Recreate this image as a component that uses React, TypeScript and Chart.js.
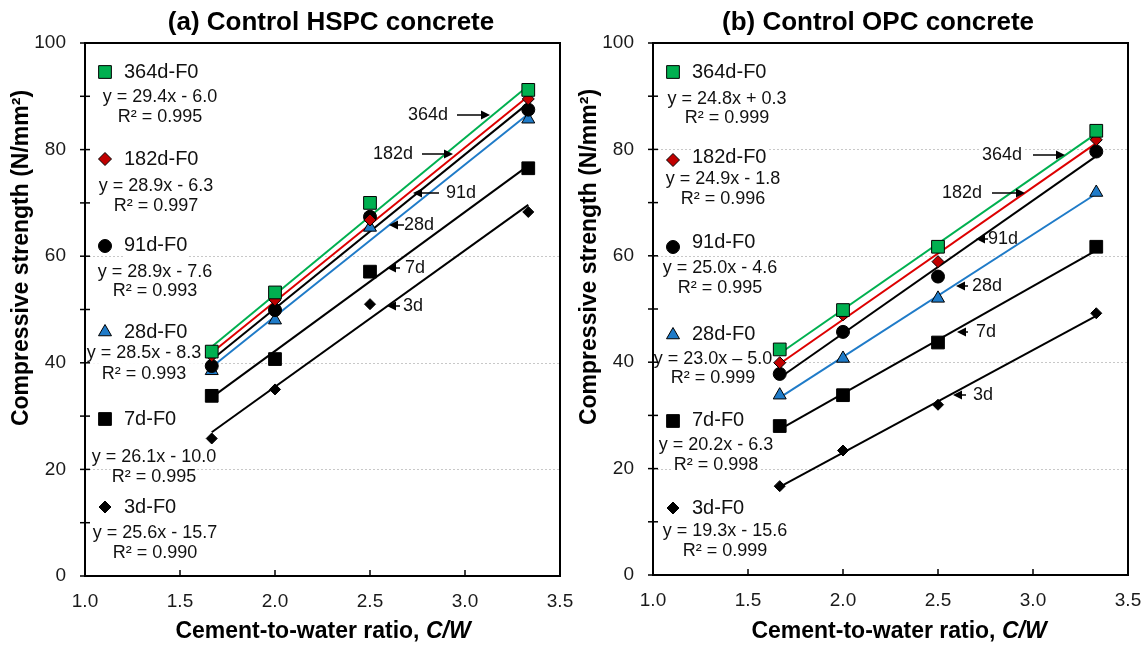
import React, { useEffect, useRef } from 'react';
import { Chart, registerables } from 'chart.js';

Chart.register(...registerables);

const FONT = '"Liberation Sans", Arial, Helvetica, sans-serif';

// ---------- data ----------
const CW = [1.667, 2.0, 2.5, 3.333];
const SERIES_NAMES = ['364d-F0', '182d-F0', '91d-F0', '28d-F0', '7d-F0', '3d-F0'];
const AGE_LABELS = ['364d', '182d', '91d', '28d', '7d', '3d'];

// (a) Control HSPC concrete
const HSPC_364 = [42.1, 53.2, 70.0, 91.2];
const HSPC_182 = [41.3, 51.8, 66.8, 89.5];
const HSPC_91 = [39.4, 49.9, 67.4, 87.5];
const HSPC_28 = [38.5, 48.0, 65.4, 85.7];
const HSPC_7 = [33.8, 40.7, 57.1, 76.5];
const HSPC_3 = [25.8, 35.0, 51.0, 68.3];
const HSPC_SLOPE = [29.4, 28.9, 28.9, 28.5, 26.1, 25.6];
const HSPC_INTERCEPT = [-6.0, -6.3, -7.6, -8.3, -10.0, -15.7];
const HSPC_EQ = ['y = 29.4x - 6.0', 'y = 28.9x - 6.3', 'y = 28.9x - 7.6', 'y = 28.5x - 8.3', 'y = 26.1x - 10.0', 'y = 25.6x - 15.7'];
const HSPC_R2 = ['R² = 0.995', 'R² = 0.997', 'R² = 0.993', 'R² = 0.993', 'R² = 0.995', 'R² = 0.990'];

// (b) Control OPC concrete
const OPC_364 = [42.4, 49.8, 61.7, 83.5];
const OPC_182 = [39.9, 48.9, 58.9, 81.8];
const OPC_91 = [37.8, 45.7, 56.1, 79.6];
const OPC_28 = [33.8, 40.7, 52.0, 71.9];
const OPC_7 = [28.0, 33.8, 43.7, 61.7];
const OPC_3 = [16.7, 23.4, 32.0, 49.2];
const OPC_SLOPE = [24.8, 24.9, 25.0, 23.0, 20.2, 19.3];
const OPC_INTERCEPT = [0.3, -1.8, -4.6, -5.0, -6.3, -15.6];
const OPC_EQ = ['y = 24.8x + 0.3', 'y = 24.9x - 1.8', 'y = 25.0x - 4.6', 'y = 23.0x – 5.0', 'y = 20.2x - 6.3', 'y = 19.3x - 15.6'];
const OPC_R2 = ['R² = 0.999', 'R² = 0.996', 'R² = 0.995', 'R² = 0.999', 'R² = 0.998', 'R² = 0.999'];

const X_TICKS_MIN = 1.0;
const X_TICKS_MAX = 3.5;
const Y_MIN = 0;
const Y_MAX = 100;

// ---------- styles ----------
const STYLES = [
  { pointStyle: 'rect', fill: '#00B050', line: '#00B050', radius: 9 },
  { pointStyle: 'rectRot', fill: '#C00000', line: '#DD0000', radius: 6 },
  { pointStyle: 'circle', fill: '#000000', line: '#000000', radius: 6.5 },
  { pointStyle: 'triangle', fill: '#1F7BC8', line: '#1F7BC8', radius: 7.5 },
  { pointStyle: 'rect', fill: '#000000', line: '#000000', radius: 9 },
  { pointStyle: 'rectRot', fill: '#000000', line: '#000000', radius: 5.5 },
];

type Ann = { tx: number; ty: number; from: number; tip: number };

type Panel = {
  title: string;
  titleX: number;
  yTitleX: number;
  yTitleY: number;
  xTitleX: number;
  left: number;
  right: number;
  top: number;
  bottom: number;
  series: number[][];
  slopes: number[];
  intercepts: number[];
  eqs: string[];
  r2s: string[];
  grid: number[];
  markerX: number;
  labelX: number;
  labelY: number[];
  markerY: number[];
  eqX: number[];
  eqY: number[];
  r2Y: number[];
  ann: Ann[];
};

const PANEL_A: Panel = {
  title: '(a) Control HSPC concrete',
  titleX: 331,
  yTitleX: 22,
  yTitleY: 258,
  xTitleX: 323,
  left: 85,
  right: 560,
  top: 43,
  bottom: 576,
  series: [HSPC_364, HSPC_182, HSPC_91, HSPC_28, HSPC_7, HSPC_3],
  slopes: HSPC_SLOPE,
  intercepts: HSPC_INTERCEPT,
  eqs: HSPC_EQ,
  r2s: HSPC_R2,
  grid: [20, 40, 60],
  markerX: 105,
  labelX: 124,
  labelY: [72, 159, 245, 332, 419, 507],
  markerY: [72, 159, 246, 332, 419, 507],
  eqX: [160, 156, 155, 144, 154, 155],
  eqY: [97, 186, 272, 353, 457, 533],
  r2Y: [117, 206, 291, 374, 477, 553],
  ann: [
    { tx: 428, ty: 115, from: 457, tip: 490 },
    { tx: 393, ty: 154, from: 422, tip: 453 },
    { tx: 461, ty: 193, from: 439, tip: 413 },
    { tx: 419, ty: 225, from: 404, tip: 389 },
    { tx: 415, ty: 268, from: 400, tip: 387 },
    { tx: 413, ty: 306, from: 400, tip: 387 },
  ],
};

const PANEL_B: Panel = {
  title: '(b) Control OPC concrete',
  titleX: 305,
  yTitleX: 17,
  yTitleY: 257,
  xTitleX: 326,
  left: 80,
  right: 555,
  top: 43,
  bottom: 575,
  series: [OPC_364, OPC_182, OPC_91, OPC_28, OPC_7, OPC_3],
  slopes: OPC_SLOPE,
  intercepts: OPC_INTERCEPT,
  eqs: OPC_EQ,
  r2s: OPC_R2,
  grid: [20, 40, 60, 80],
  markerX: 100,
  labelX: 119,
  labelY: [72, 157, 242, 334, 420, 508],
  markerY: [72, 160, 247, 335, 421, 508],
  eqX: [154, 150, 147, 140, 143, 152],
  eqY: [99, 179, 268, 359, 445, 531],
  r2Y: [118, 199, 288, 378, 465, 551],
  ann: [
    { tx: 429, ty: 155, from: 460, tip: 492 },
    { tx: 389, ty: 193, from: 419, tip: 452 },
    { tx: 430, ty: 239, from: 415, tip: 403 },
    { tx: 414, ty: 286, from: 395, tip: 383 },
    { tx: 413, ty: 332, from: 395, tip: 384 },
    { tx: 410, ty: 395, from: 393, tip: 380 },
  ],
};

const W = 573;
const H = 646;

function drawMarker(ctx: CanvasRenderingContext2D, style: string, x: number, y: number, r: number, fill: string) {
  ctx.beginPath();
  if (style === 'rect') {
    const s = r * Math.SQRT1_2;
    ctx.rect(x - s, y - s, 2 * s, 2 * s);
  } else if (style === 'rectRot') {
    ctx.moveTo(x - r, y);
    ctx.lineTo(x, y - r);
    ctx.lineTo(x + r, y);
    ctx.lineTo(x, y + r);
    ctx.closePath();
  } else if (style === 'circle') {
    ctx.arc(x, y, r, 0, Math.PI * 2);
  } else if (style === 'triangle') {
    for (let k = 0; k < 3; k++) {
      const a = (k * 2 * Math.PI) / 3;
      const px = x + Math.sin(a) * r;
      const py = y - Math.cos(a) * r;
      if (k === 0) ctx.moveTo(px, py);
      else ctx.lineTo(px, py);
    }
    ctx.closePath();
  }
  ctx.fillStyle = fill;
  ctx.fill();
  ctx.lineWidth = 1;
  ctx.strokeStyle = '#000';
  ctx.stroke();
}

function boxedText(ctx: CanvasRenderingContext2D, text: string, x: number, y: number, size: number, align: CanvasTextAlign) {
  ctx.font = `${size}px ${FONT}`;
  const w = ctx.measureText(text).width;
  const x0 = align === 'center' ? x - w / 2 : align === 'left' ? x : x - w;
  ctx.fillStyle = '#fff';
  ctx.fillRect(x0 - 1, y - size * 0.6, w + 2, size * 1.2);
  ctx.fillStyle = '#111';
  ctx.textAlign = align;
  ctx.textBaseline = 'middle';
  ctx.fillText(text, x, y);
}

function arrow(ctx: CanvasRenderingContext2D, from: number, tip: number, y: number) {
  const dir = tip > from ? 1 : -1;
  const head = 9;
  ctx.strokeStyle = '#000';
  ctx.fillStyle = '#000';
  ctx.lineWidth = 1.5;
  ctx.beginPath();
  ctx.moveTo(from, y);
  ctx.lineTo(tip - dir * head * 0.6, y);
  ctx.stroke();
  ctx.beginPath();
  ctx.moveTo(tip, y);
  ctx.lineTo(tip - dir * head, y - 4.5);
  ctx.lineTo(tip - dir * head, y + 4.5);
  ctx.closePath();
  ctx.fill();
}

function makePlugin(p: Panel) {
  return {
    id: 'panelDeco',
    beforeDatasetsDraw(chart: any) {
      const ctx: CanvasRenderingContext2D = chart.ctx;
      const { left, right } = chart.chartArea;
      const ys = chart.scales.y;
      ctx.save();
      // grid lines
      ctx.strokeStyle = '#c8c8c8';
      ctx.lineWidth = 1;
      ctx.setLineDash([2, 2]);
      p.grid.forEach((g) => {
        const y = Math.round(ys.getPixelForValue(g)) + 0.5;
        ctx.beginPath();
        ctx.moveTo(left, y);
        ctx.lineTo(right, y);
        ctx.stroke();
      });
      ctx.setLineDash([]);
      // legend labels and equations
      SERIES_NAMES.forEach((name, i) => {
        boxedText(ctx, name, p.labelX, p.labelY[i], 20, 'left');
        boxedText(ctx, p.eqs[i], p.eqX[i], p.eqY[i], 18, 'center');
        boxedText(ctx, p.r2s[i], p.eqX[i], p.r2Y[i], 18, 'center');
      });
      // age annotations text
      AGE_LABELS.forEach((t, i) => {
        const a = p.ann[i];
        boxedText(ctx, t, a.tx, a.ty, 18, 'center');
      });
      ctx.restore();
    },
    afterDatasetsDraw(chart: any) {
      const ctx: CanvasRenderingContext2D = chart.ctx;
      const { left, right, top, bottom } = chart.chartArea;
      const xs = chart.scales.x;
      const ys = chart.scales.y;
      ctx.save();
      // arrows
      p.ann.forEach((a) => arrow(ctx, a.from, a.tip, a.ty));
      // legend markers
      STYLES.forEach((st, i) => {
        const r = st.pointStyle === 'rectRot' ? st.radius + 0.5 : st.radius;
        drawMarker(ctx, st.pointStyle, p.markerX, p.markerY[i], r, st.fill);
      });
      // frame
      ctx.strokeStyle = '#000';
      ctx.lineWidth = 2;
      ctx.strokeRect(left, top, right - left, bottom - top);
      // y ticks
      ctx.lineWidth = 1.5;
      for (let v = Y_MIN; v <= Y_MAX; v += 10) {
        const y = ys.getPixelForValue(v);
        ctx.beginPath();
        ctx.moveTo(left - 5, y);
        ctx.lineTo(left + 5, y);
        ctx.stroke();
      }
      // x ticks
      for (let v = X_TICKS_MIN; v <= X_TICKS_MAX + 1e-9; v += 0.5) {
        const x = xs.getPixelForValue(v);
        ctx.beginPath();
        ctx.moveTo(x, bottom);
        ctx.lineTo(x, bottom - 6);
        ctx.stroke();
      }
      ctx.restore();
    },
    afterDraw(chart: any) {
      const ctx: CanvasRenderingContext2D = chart.ctx;
      ctx.save();
      ctx.fillStyle = '#000';
      // title
      ctx.font = `bold 26px ${FONT}`;
      ctx.textAlign = 'center';
      ctx.textBaseline = 'middle';
      ctx.fillText(p.title, p.titleX, 23);
      // y title
      ctx.save();
      ctx.translate(p.yTitleX, p.yTitleY);
      ctx.rotate(-Math.PI / 2);
      ctx.font = `bold 23px ${FONT}`;
      ctx.fillText('Compressive strength (N/mm²)', 0, 0);
      ctx.restore();
      // x title
      const part1 = 'Cement-to-water ratio, ';
      const part2 = 'C/W';
      ctx.font = `bold 23px ${FONT}`;
      const w1 = ctx.measureText(part1).width;
      ctx.font = `italic bold 23px ${FONT}`;
      const w2 = ctx.measureText(part2).width;
      const x0 = p.xTitleX - (w1 + w2) / 2;
      ctx.textAlign = 'left';
      ctx.font = `bold 23px ${FONT}`;
      ctx.fillText(part1, x0, 632);
      ctx.font = `italic bold 23px ${FONT}`;
      ctx.fillText(part2, x0 + w1, 632);
      ctx.restore();
    },
  };
}

function buildConfig(p: Panel): any {
  const fits = p.series.map((_, i) => {
    const m = p.slopes[i];
    const b = p.intercepts[i];
    const x0 = CW[0];
    const x1 = CW[CW.length - 1];
    return {
      type: 'line',
      label: AGE_LABELS[i] + ' fit',
      data: [
        { x: x0, y: m * x0 + b },
        { x: x1, y: m * x1 + b },
      ],
      borderColor: STYLES[i].line,
      borderWidth: 2,
      pointRadius: 0,
      fill: false,
      showLine: true,
      order: 2,
    };
  });
  const pts = p.series.map((vals, i) => ({
    type: 'scatter',
    label: SERIES_NAMES[i],
    data: vals.map((v, j) => ({ x: CW[j], y: v })),
    pointStyle: STYLES[i].pointStyle,
    pointRadius: STYLES[i].radius,
    backgroundColor: STYLES[i].fill,
    borderColor: '#000',
    borderWidth: 1,
    showLine: false,
    order: 1,
  }));
  return {
    type: 'scatter',
    data: { datasets: [...fits, ...pts] },
    options: {
      responsive: false,
      animation: false,
      devicePixelRatio: 1,
      layout: { padding: { top: p.top, right: W - p.right, left: 0, bottom: 0 } },
      plugins: {
        legend: { display: false },
        tooltip: { enabled: false },
        title: { display: false },
      },
      scales: {
        x: {
          type: 'linear',
          min: X_TICKS_MIN,
          max: X_TICKS_MAX,
          grid: { display: false, drawTicks: false },
          border: { display: false },
          afterFit: (s: any) => {
            s.height = H - p.bottom;
            s.paddingLeft = 0;
            s.paddingRight = 0;
          },
          ticks: {
            stepSize: 0.5,
            padding: 14,
            color: '#1a1a1a',
            maxRotation: 0,
            autoSkip: false,
            font: { family: FONT, size: 19 },
            callback: (v: any) => Number(v).toFixed(1),
          },
        },
        y: {
          type: 'linear',
          min: Y_MIN,
          max: Y_MAX,
          grid: { display: false, drawTicks: false },
          border: { display: false },
          afterFit: (s: any) => {
            s.width = p.left;
            s.paddingTop = 0;
            s.paddingBottom = 0;
          },
          ticks: {
            stepSize: 10,
            padding: 19,
            color: '#1a1a1a',
            autoSkip: false,
            font: { family: FONT, size: 19 },
            callback: (v: any) => (Number(v) % 20 === 0 ? String(v) : ''),
          },
        },
      },
    },
    plugins: [makePlugin(p)],
  };
}

function PanelChart({ panel }: { panel: Panel }) {
  const ref = useRef<HTMLCanvasElement | null>(null);
  useEffect(() => {
    if (!ref.current) return;
    const chart = new Chart(ref.current, buildConfig(panel));
    return () => chart.destroy();
  }, [panel]);
  return <canvas ref={ref} width={W} height={H} style={{ width: W, height: H, display: 'block' }} />;
}

export default function App() {
  return (
    <div style={{ position: 'fixed', left: 0, top: 0, width: 1146, height: 646, background: '#fff', display: 'flex' }}>
      <PanelChart panel={PANEL_A} />
      <PanelChart panel={PANEL_B} />
    </div>
  );
}
